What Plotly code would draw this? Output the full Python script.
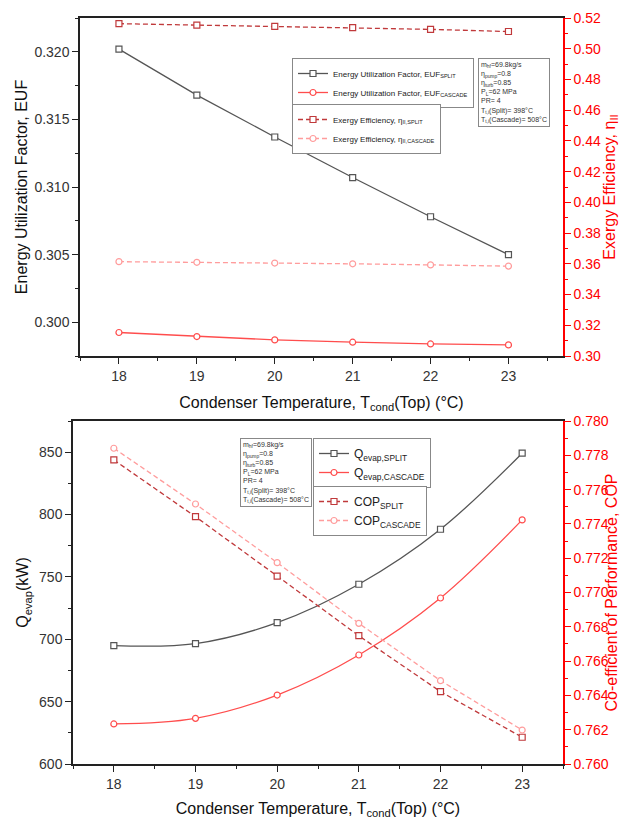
import plotly.graph_objects as go

temps = [18, 19, 20, 21, 22, 23]
euf_split = [0.3202, 0.3168, 0.3137, 0.3107, 0.3078, 0.3050]
euf_cascade = [0.29924, 0.29894, 0.29869, 0.29852, 0.29839, 0.29832]
ex_split = [0.5163, 0.5154, 0.5145, 0.5137, 0.5126, 0.5112]
ex_cascade = [0.3614, 0.3610, 0.3605, 0.3600, 0.3593, 0.3585]
q_split = [694.9, 696.5, 713.3, 744.1, 788.2, 849.2]
q_cascade = [632.1, 636.6, 655.3, 687.4, 733.1, 795.7]
cop_split = [0.77773, 0.77442, 0.77096, 0.76748, 0.76422, 0.76156]
cop_cascade = [0.77841, 0.77516, 0.77174, 0.76820, 0.76486, 0.76198]

params_text = ("m<sub>hf</sub>=69.8kg/s<br>η<sub>pump</sub>=0.8<br>η<sub>turb</sub>=0.85<br>"
               "P<sub>L</sub>=62 MPa<br>PR= 4<br>T<sub>t,i</sub>(Split)= 398°C<br>"
               "T<sub>t,i</sub>(Cascade)= 508°C")

C_SPLIT = "#555555"
C_CASC = "#ff4d4d"
C_EXS = "#c0393b"
C_EXC = "#ff9c9c"
RED = "#ff0000"
FONT = "Liberation Sans, Arial, sans-serif"
DASH = "5px,3px"

fig = go.Figure()

def mk(x, y, name, color, symbol, dash, xa, ya, legend, shape="linear"):
    return go.Scatter(x=x, y=y, name=name, mode="lines+markers",
                      line=dict(color=color, width=1.3, dash=dash, shape=shape),
                      marker=dict(symbol=symbol, size=6, color="white",
                                  line=dict(color=color, width=1.2)),
                      xaxis=xa, yaxis=ya, legend=legend)

fig.add_trace(mk(temps, euf_split, "Energy Utilization Factor, EUF<sub>SPLIT</sub>", C_SPLIT, "square", "solid", "x", "y", "legend"))
fig.add_trace(mk(temps, euf_cascade, "Energy Utilization Factor, EUF<sub>CASCADE</sub>", C_CASC, "circle", "solid", "x", "y", "legend"))
fig.add_trace(mk(temps, ex_split, "Exergy Efficiency, η<sub>II,SPLIT</sub>", C_EXS, "square", DASH, "x", "y2", "legend2"))
fig.add_trace(mk(temps, ex_cascade, "Exergy Efficiency, η<sub>II,CASCADE</sub>", C_EXC, "circle", DASH, "x", "y2", "legend2"))

fig.add_trace(mk(temps, q_split, "Q<sub>evap,SPLIT</sub>", C_SPLIT, "square", "solid", "x2", "y3", "legend3", "spline"))
fig.add_trace(mk(temps, q_cascade, "Q<sub>evap,CASCADE</sub>", C_CASC, "circle", "solid", "x2", "y3", "legend3", "spline"))
fig.add_trace(mk(temps, cop_split, "COP<sub>SPLIT</sub>", C_EXS, "square", DASH, "x2", "y4", "legend4"))
fig.add_trace(mk(temps, cop_cascade, "COP<sub>CASCADE</sub>", C_EXC, "circle", DASH, "x2", "y4", "legend4"))

W, H = 620, 822
def px(x): return x / W
def py(y): return 1 - y / H

axis_common = dict(showgrid=False, zeroline=False, ticks="outside", ticklen=6,
                   tickwidth=1.2, linewidth=1.5, showline=True, automargin=False)
tickfont = dict(family=FONT, size=14, color="#333333")
titlefont = dict(family=FONT, size=16, color="#111111")
redfont = dict(family=FONT, size=14, color=RED)

xtitle = "Condenser Temperature, T<sub>cond</sub>(Top) (°C)"

def legbox(x, y, size):
    return dict(x=px(x), y=py(y), xanchor="left", yanchor="top", bgcolor="white",
                bordercolor="#888888", borderwidth=1,
                font=dict(family=FONT, size=size, color="#222"),
                itemwidth=30, tracegroupgap=0)

fig.update_layout(
    width=W, height=H, template="none",
    margin=dict(l=0, r=0, t=0, b=0),
    paper_bgcolor="white", plot_bgcolor="white",
    font=dict(family=FONT),
    xaxis=dict(axis_common, domain=[px(80), px(563)], range=[17.5, 23.7], anchor="y",
               dtick=1, tick0=18, linecolor="#222222", mirror=True, tickcolor="#222222",
               minor=dict(ticks="outside", ticklen=3, dtick=0.5, tick0=18, tickcolor="#222222"),
               tickfont=tickfont, title=dict(text=xtitle, font=titlefont, standoff=14)),
    yaxis=dict(axis_common, domain=[py(356), py(18)], range=[0.2975, 0.3225], anchor="x",
               dtick=0.005, tick0=0.3, tickformat=".3f", linecolor="#222222", tickcolor="#222222",
               minor=dict(ticks="outside", ticklen=3, dtick=0.0025, tick0=0.3, tickcolor="#222222"),
               tickfont=tickfont,
               title=dict(text="Energy Utilization Factor, EUF", font=titlefont, standoff=3)),
    yaxis2=dict(axis_common, overlaying="y", side="right", anchor="x", range=[0.30, 0.52],
                dtick=0.02, tick0=0.3, tickformat=".2f", linecolor=RED, tickcolor=RED,
                minor=dict(ticks="outside", ticklen=3, dtick=0.01, tick0=0.3, tickcolor=RED),
                tickfont=redfont,
                title=dict(text="Exergy Efficiency, η<sub>II</sub>", font=dict(family=FONT, size=16, color=RED), standoff=6)),
    xaxis2=dict(axis_common, domain=[px(73), px(563)], range=[17.5, 23.5], anchor="y3",
                dtick=1, tick0=18, linecolor="#222222", mirror=True, tickcolor="#222222",
                minor=dict(ticks="outside", ticklen=3, dtick=0.5, tick0=18, tickcolor="#222222"),
                tickfont=tickfont, title=dict(text=xtitle, font=titlefont, standoff=12)),
    yaxis3=dict(axis_common, domain=[py(764), py(421)], range=[600, 875], anchor="x2",
                dtick=50, tick0=600, linecolor="#222222", tickcolor="#222222",
                minor=dict(ticks="outside", ticklen=3, dtick=25, tick0=600, tickcolor="#222222"),
                tickfont=tickfont,
                title=dict(text="Q<sub>evap</sub>(kW)", font=titlefont, standoff=6)),
    yaxis4=dict(axis_common, overlaying="y3", side="right", anchor="x2", range=[0.760, 0.780],
                dtick=0.002, tick0=0.76, tickformat=".3f", linecolor=RED, tickcolor=RED,
                minor=dict(ticks="outside", ticklen=3, dtick=0.001, tick0=0.76, tickcolor=RED),
                tickfont=redfont,
                title=dict(text="Co-efficient of Performance, COP", font=dict(family=FONT, size=16, color=RED), standoff=6)),
    legend=legbox(292, 58, 8),
    legend2=legbox(292, 104, 8),
    legend3=legbox(313, 438, 12),
    legend4=legbox(313, 486, 12),
    annotations=[
        dict(text=params_text, xref="paper", yref="paper", x=px(478), y=py(58),
             xanchor="left", yanchor="top", align="left", showarrow=False,
             font=dict(family=FONT, size=7, color="#333"), bordercolor="#888888",
             borderwidth=1, borderpad=2, bgcolor="white"),
        dict(text=params_text, xref="paper", yref="paper", x=px(240), y=py(438),
             xanchor="left", yanchor="top", align="left", showarrow=False,
             font=dict(family=FONT, size=7, color="#333"), bordercolor="#888888",
             borderwidth=1, borderpad=2, bgcolor="white"),
    ],
)

fig.write_html("out.html")
